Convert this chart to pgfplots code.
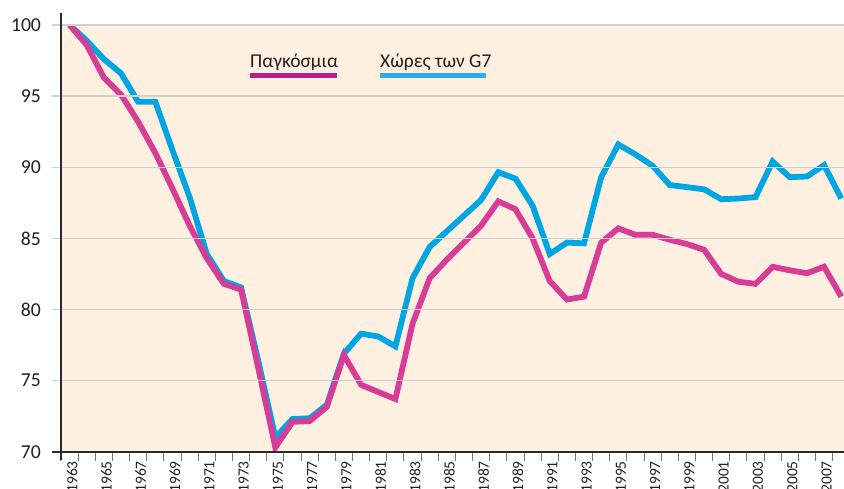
\documentclass[border=0pt]{standalone}
\usepackage{pgfplots}
\pgfplotsset{compat=1.18}
\usepackage{fontspec}
\setmainfont{Carlito}
\definecolor{bgc}{HTML}{FDF0E1}
\definecolor{gridc}{HTML}{D3D1D0}
\definecolor{axc}{HTML}{2B2B2B}
\definecolor{xtc}{HTML}{777777}
\definecolor{txt}{HTML}{231F20}
\definecolor{cyanL}{HTML}{00A6E1}
\definecolor{magL}{HTML}{D73D96}
\definecolor{cyanG}{HTML}{2AAEE4}
\definecolor{magG}{HTML}{B1228C}

\pgfplotstableread{
year val
1963 100
1964 98.9
1965 97.6
1966 96.6
1967 94.6
1968 94.6
1969 91.2
1970 87.9
1971 83.9
1972 82.0
1973 81.55
1974 76.4
1975 71.0
1976 72.3
1977 72.35
1978 73.3
1979 76.9
1980 78.3
1981 78.1
1982 77.4
1983 82.2
1984 84.4
1985 85.5
1986 86.6
1987 87.7
1988 89.65
1989 89.2
1990 87.3
1991 83.9
1992 84.7
1993 84.65
1994 89.3
1995 91.6
1996 90.9
1997 90.1
1998 88.75
1999 88.6
2000 88.45
2001 87.75
2002 87.8
2003 87.9
2004 90.4
2005 89.3
2006 89.35
2007 90.15
2008 87.8
}\gseven

\pgfplotstableread{
year val
1963 100
1964 98.6
1965 96.3
1966 95.1
1967 93.2
1968 91.0
1969 88.5
1970 85.9
1971 83.6
1972 81.8
1973 81.4
1974 75.9
1975 70.3
1976 72.1
1977 72.15
1978 73.15
1979 76.8
1980 74.7
1981 74.2
1982 73.7
1983 79.0
1984 82.2
1985 83.5
1986 84.7
1987 85.9
1988 87.6
1989 87.05
1990 85.0
1991 82.0
1992 80.7
1993 80.9
1994 84.7
1995 85.7
1996 85.25
1997 85.25
1998 84.9
1999 84.6
2000 84.2
2001 82.5
2002 81.95
2003 81.8
2004 83.0
2005 82.75
2006 82.55
2007 83.0
2008 80.9
}\world

\begin{document}
\begin{tikzpicture}
\begin{axis}[
  at={(0,0)}, anchor=south west,
  scale only axis, width=783pt, height=426.7pt,
  xmin=1962.5, xmax=2008.16, ymin=70, ymax=100,
  axis background/.style={fill=bgc},
  axis lines=left,
  axis line style={-, draw=axc, line width=1.8pt},
  x axis line style={shorten <=-9pt},
  y axis line style={shorten <=-8.3pt, shorten >=-12pt},
  axis on top,
  /pgf/number format/assume math mode=true,
  /pgf/number format/1000 sep={},
  ytick={70,75,...,100},
  ymajorgrids,
  major grid style={draw=gridc, line width=1.3pt},
  tick align=outside,
  major tick length=9pt,
  ytick style={draw=gridc, line width=1.3pt},
  yticklabel style={font=\fontsize{19.7}{21}\selectfont, text=txt, xshift=-7.5pt},
  xtick={1962.5,1963.5,...,2007.5},
  xticklabels={},
  xtick style={draw=xtc, line width=1pt},
  extra x ticks={1963,1965,...,2007},
  extra x tick labels={1963,1965,1967,1969,1971,1973,1975,1977,1979,1981,1983,1985,1987,1989,1991,1993,1995,1997,1999,2001,2003,2005,2007},
  extra x tick style={major tick length=0pt, xticklabel style={xshift=2.5pt, yshift=-6pt, rotate=90, anchor=east, font=\fontsize{15.5}{17}\selectfont, text=txt}},
]
\addplot[draw=cyanL, line width=5.8pt, line join=miter] table[x=year, y=val] {\gseven};
\addplot[draw=magL, line width=5.8pt, line join=miter] table[x=year, y=val] {\world};
\end{axis}
\draw[magG, line width=5.7pt] (189pt,376.2pt) -- (276pt,376.2pt);
\node[anchor=base west, inner sep=0pt, font=\fontsize{19.5}{21}\selectfont, text=txt] at (189pt,383.7pt) {Παγκόσμια};
\draw[cyanG, line width=5.7pt] (319pt,376.2pt) -- (425pt,376.2pt);
\node[anchor=base west, inner sep=0pt, font=\fontsize{19.5}{21}\selectfont, text=txt] at (319pt,383.7pt) {Χώρες των G7};
\pgfresetboundingbox
\useasboundingbox (-61pt,-36.3pt) rectangle (783pt,451.7pt);
\end{tikzpicture}
\end{document}
